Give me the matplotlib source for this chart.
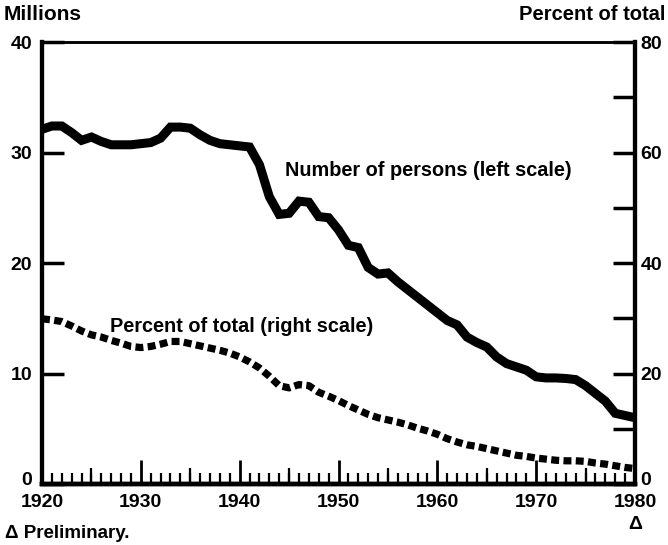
import numpy as np
import matplotlib
matplotlib.use("Agg")
import matplotlib.pyplot as plt
from matplotlib.transforms import ScaledTranslation

plt.rcParams['font.family'] = ['Liberation Sans', 'DejaVu Sans']
plt.rcParams['font.weight'] = 'bold'

# data, one value per year 1920-1980
years = list(range(1920, 1981))

persons_millions = [
    32.1, 32.4, 32.4, 31.8, 31.1, 31.4, 31.0, 30.7, 30.7, 30.7,   # 1920s
    30.8, 30.9, 31.3, 32.3, 32.3, 32.2, 31.6, 31.1, 30.8, 30.7,   # 1930s
    30.6, 30.5, 28.9, 26.0, 24.4, 24.5, 25.6, 25.5, 24.2, 24.1,   # 1940s
    23.0, 21.6, 21.4, 19.6, 19.0, 19.1, 18.3, 17.6, 16.9, 16.2,   # 1950s
    15.5, 14.8, 14.4, 13.3, 12.8, 12.4, 11.5, 10.9, 10.6, 10.3,   # 1960s
    9.7, 9.6, 9.6, 9.55, 9.45, 8.9, 8.2, 7.5, 6.4, 6.2,           # 1970s
    6.0,                                                          # 1980
]

percent_of_total = [
    29.9, 29.7, 29.4, 28.6, 27.7, 27.0, 26.6, 26.0, 25.5, 24.9,
    24.7, 24.9, 25.3, 25.8, 25.8, 25.4, 25.0, 24.6, 24.2, 23.7,
    23.0, 22.1, 21.0, 19.5, 17.8, 17.4, 18.0, 17.8, 16.6, 15.9,
    15.1, 14.2, 13.4, 12.6, 12.0, 11.6, 11.2, 10.7, 10.1, 9.6,
    9.0, 8.2, 7.6, 7.1, 6.8, 6.4, 6.0, 5.6, 5.2, 5.0,
    4.7, 4.5, 4.3, 4.2, 4.2, 4.1, 3.8, 3.6, 3.3, 3.0,
    2.8,
]

decades = [1920, 1930, 1940, 1950, 1960, 1970, 1980]
decade_labels = ["1920", "1930", "1940", "1950", "1960", "1970", "1980"]
left_ticks = [0, 10, 20, 30, 40]
right_major = [0, 20, 40, 60, 80]
right_minor = [10, 30, 50, 70]

#%%
fig = plt.figure(figsize=(6.68, 5.45), dpi=100)
ax = fig.add_axes([0.0629, 0.1119, 0.8877, 0.811])
ax2 = ax.twinx()

ax.plot(years, persons_millions, color="black", lw=6.5, solid_joinstyle="miter",
        solid_capstyle="butt", zorder=3)
ax2.plot(years, percent_of_total, color="black", lw=5.2,
         linestyle=(0, (1.1, 0.6)), dash_capstyle="butt", zorder=3)

ax.set_xlim(1920, 1980)
ax.set_ylim(0, 40)
ax2.set_ylim(0, 80)

# spines
for a in (ax, ax2):
    a.spines["left"].set_linewidth(3)
    a.spines["right"].set_linewidth(3)
    a.spines["bottom"].set_linewidth(3.2)
    a.spines["top"].set_linewidth(1.8)

# left axis ticks
ax.set_yticks(left_ticks)
ax.set_yticklabels([str(t) for t in left_ticks])
ax.tick_params(axis="y", direction="in", length=16, width=2.5, pad=7,
               labelsize=14)

# right axis ticks
ax2.set_yticks(right_major)
ax2.set_yticklabels([str(t) for t in right_major])
ax2.set_yticks(right_minor, minor=True)
ax2.tick_params(axis="y", which="both", direction="in", length=16, width=2.5,
                pad=4, labelsize=14)

# bottom: year ticks, decades long, every year short
ax.set_xticks(decades)
ax.set_xticklabels(decade_labels)
ax.set_xticks(years, minor=True)
ax.tick_params(axis="x", which="major", direction="in", length=17, width=2,
               pad=7, labelsize=14)
ax.tick_params(axis="x", which="minor", direction="in", length=8, width=1.6)

# five-year ticks, medium length
sec = ax.secondary_xaxis("bottom")
sec.set_xticks([1925, 1935, 1945, 1955, 1965, 1975])
sec.set_xticklabels([])
sec.tick_params(direction="in", length=11.5, width=1.6)
sec.spines["bottom"].set_visible(False)

# lift the two "0" labels a little so they sit above the year labels
lift = ScaledTranslation(0, 4 / 72, fig.dpi_scale_trans)
for lab in (ax.get_yticklabels()[0], ax2.get_yticklabels()[0]):
    lab.set_transform(lab.get_transform() + lift)

# axis titles
fig.text(0.006, 0.974, "Millions", fontsize=15, ha="left", va="center")
fig.text(0.996, 0.974, "Percent of total", fontsize=14.5, ha="right",
         va="center")

# series labels
ax.text(1944.6, 28.4, "Number of persons (left scale)", fontsize=14.3,
        ha="left", va="center")
ax.text(1926.9, 14.3, "Percent of total (right scale)", fontsize=14.3,
        ha="left", va="center")

# preliminary marker and footnote
ax.annotate("\u0394", xy=(1980, 0), xycoords=("data", "axes fraction"),
            xytext=(0, -23), textcoords="offset points", ha="center",
            va="top", fontsize=14)
fig.text(0.008, 0.005, "\u0394 Preliminary.", fontsize=13.5, ha="left",
         va="bottom")

fig.savefig("out.png", dpi=100)
